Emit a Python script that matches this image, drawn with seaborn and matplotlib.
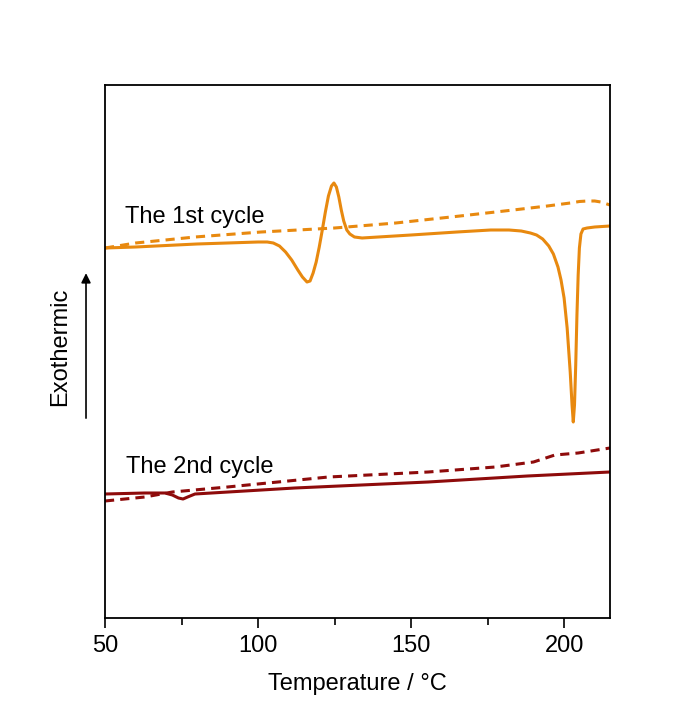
import matplotlib
matplotlib.use("Agg")
import matplotlib.pyplot as plt
import seaborn as sns
import pandas as pd
from matplotlib.ticker import MultipleLocator

# DSC traces (temperature in °C, heat flow in arbitrary units, exo up)
t1_heat = [50, 60, 80, 100, 103, 105, 107, 109, 111, 113, 114.5, 116, 117, 118, 119, 120,
           121, 122, 123, 124, 124.8, 125.6, 126.4, 127.2, 128, 129, 130, 131.5, 134, 150,
           165, 176, 182, 186, 189, 191, 193, 195, 196.5, 198, 199, 200, 201, 202, 202.6,
           203, 203.4, 203.8, 204.2, 204.6, 205, 205.5, 206.2, 207.5, 210, 215]
hf1_heat = [4.52, 4.53, 4.56, 4.58, 4.58, 4.57, 4.54, 4.48, 4.40, 4.30, 4.23, 4.18, 4.19,
            4.27, 4.38, 4.53, 4.70, 4.88, 5.04, 5.14, 5.17, 5.13, 5.03, 4.90, 4.79, 4.70,
            4.66, 4.63, 4.62, 4.65, 4.68, 4.70, 4.70, 4.69, 4.67, 4.65, 4.61, 4.54, 4.46,
            4.33, 4.20, 4.02, 3.72, 3.28, 2.95, 2.78, 2.95, 3.35, 3.85, 4.25, 4.52, 4.66,
            4.71, 4.72, 4.73, 4.74]

t1_cool = [50, 60, 79.4, 101, 125, 145, 166, 183.4, 194.5, 202, 205, 207.6, 210, 212, 215]
hf1_cool = [4.52, 4.57, 4.63, 4.68, 4.72, 4.77, 4.84, 4.90, 4.94, 4.97, 4.985, 4.99,
            4.99, 4.98, 4.95]

t2_heat = [50, 63, 69.6, 72, 74, 75.5, 77, 79.4, 112, 155.6, 188, 215]
hf2_heat = [2.06, 2.07, 2.07, 2.05, 2.02, 2.01, 2.03, 2.06, 2.12, 2.18, 2.24, 2.28]

t2_cool = [50, 63, 72, 90, 123, 155.6, 177.5, 190, 197, 204.6, 215]
hf2_cool = [1.99, 2.03, 2.08, 2.13, 2.23, 2.28, 2.33, 2.38, 2.45, 2.47, 2.52]

cycle_labels = ["The 1st cycle", "The 2nd cycle"]
orange = "#E8890F"
darkred = "#8E0B0B"

sns.set_theme(style="white")
plt.rcParams["font.family"] = ["Liberation Sans", "DejaVu Sans"]
plt.rcParams["text.color"] = "black"
plt.rcParams["axes.labelcolor"] = "black"
plt.rcParams["xtick.color"] = "black"

fig = plt.figure(figsize=(6.73, 7.28), dpi=100)
ax = fig.add_axes([105/673, 110/728, 505/673, 533/728])

series = [
    (t1_cool, hf1_cool, orange, (0, (3.0, 2.0))),
    (t1_heat, hf1_heat, orange, "-"),
    (t2_cool, hf2_cool, darkred, (0, (3.0, 2.0))),
    (t2_heat, hf2_heat, darkred, "-"),
]
for t, hf, c, ls in series:
    df = pd.DataFrame({"T": t, "HF": hf})
    sns.lineplot(data=df, x="T", y="HF", ax=ax, color=c, linestyle=ls,
                 linewidth=2.2, sort=False, estimator=None)

ax.set_xlim(50, 215)
ax.set_ylim(0.82, 6.15)
ax.set_yticks([])
ax.set_ylabel("")
ax.xaxis.set_major_locator(MultipleLocator(50))
ax.xaxis.set_minor_locator(MultipleLocator(25))
ax.tick_params(axis="x", which="major", direction="out", length=7, width=1.2,
               labelsize=17, pad=5, bottom=True, colors="black")
ax.tick_params(axis="x", which="minor", direction="out", length=5, width=1.2, bottom=True)
ax.set_xlabel("Temperature / \u00b0C", fontsize=17, labelpad=12)
for s in ax.spines.values():
    s.set_visible(True)
    s.set_color("black")
    s.set_linewidth(1.3)

ax.text(56.5, 4.77, cycle_labels[0], fontsize=17, va="baseline", ha="left")
ax.text(56.9, 2.27, cycle_labels[1], fontsize=17, va="baseline", ha="left")

# exothermic direction indicator
ax.annotate("", xy=(-0.0376, 0.647), xytext=(-0.0376, 0.375),
            xycoords="axes fraction", textcoords="axes fraction",
            arrowprops=dict(arrowstyle="-|>", color="black", lw=1.2,
                            mutation_scale=14, shrinkA=0, shrinkB=0),
            annotation_clip=False)
ax.text(-0.089, 0.508, "Exothermic", rotation=90, fontsize=17,
        transform=ax.transAxes, ha="center", va="center")

fig.savefig("out.png", dpi=100)
